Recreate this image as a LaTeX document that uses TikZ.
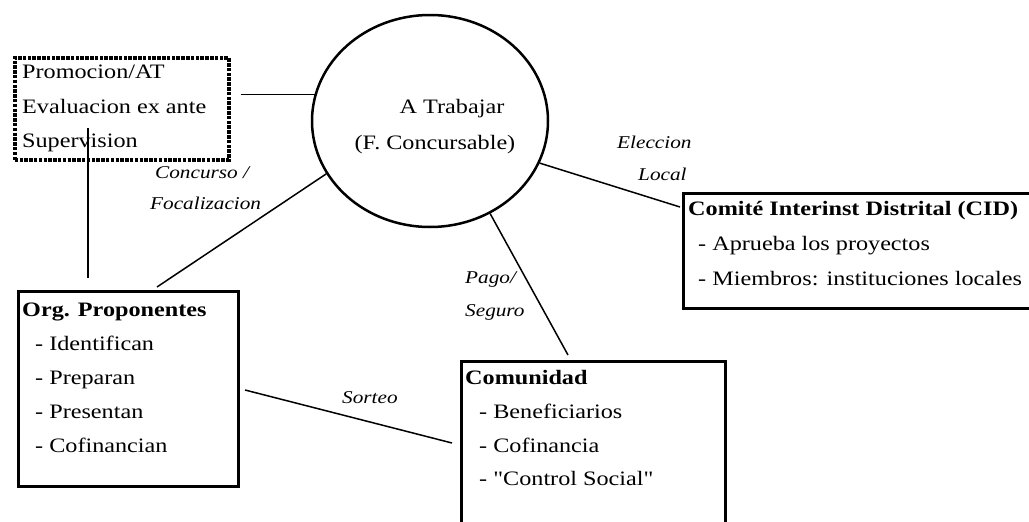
\documentclass[tikz,border=0pt]{standalone}
\usepackage{fontspec}
\setmainfont{Liberation Serif}[FakeStretch=1.18]
\newfontfamily\plainquotes{Liberation Serif}[FakeStretch=1.18]
\usetikzlibrary{shapes.geometric,calc}
\begin{document}
\begin{tikzpicture}[x=1pt,y=-1pt,
  box/.style={draw, line width=3pt, anchor=north west, inner sep=0pt},
  dotbox/.style={draw, line width=3.5pt, dash pattern=on 3.5pt off 1.3pt, anchor=north west, inner sep=0pt},
  txt/.style={anchor=base west, inner sep=0pt, font=\fontsize{20.5}{24}\selectfont},
  hd/.style={anchor=base west, inner sep=0pt, font=\fontsize{20.5}{24}\selectfont\bfseries},
  ctxt/.style={anchor=base, inner sep=0pt, font=\fontsize{20.5}{24}\selectfont},
  lbl/.style={anchor=base west, inner sep=0pt, font=\fontsize{18}{21}\selectfont\itshape},
  conn/.style={line width=1.5pt}]
\clip (0,0) rectangle (1029,522);
% shapes
\node[dotbox, minimum width=214pt, minimum height=102pt] (dot) at (13,56) {};
\node[box, minimum width=220pt, minimum height=195pt] (org) at (17,290) {};
\node[box, minimum width=360pt, minimum height=115pt] (cid) at (682,192) {};
\node[box, minimum width=264pt, minimum height=190pt] (com) at (460,360) {};
\node[ellipse, draw, line width=2.5pt, minimum width=236pt, minimum height=212pt, inner sep=0pt] (circ) at (430,121) {};
% texts
\node[txt] (t1) at (22,78) {Promocion/AT};
\node[txt] (t2) at (22,113) {Evaluacion ex ante};
\node[txt] (t3) at (22,147) {Supervision};
\node[ctxt] (c1) at (452,113) {A Trabajar};
\node[ctxt] (c2) at (435,149) {(F. Concursable)};
\node[hd] (o0) at (22,316) {Org. Proponentes};
\node[txt] (o1) at (35,350) {- Identifican};
\node[txt] (o2) at (35,384) {- Preparan};
\node[txt] (o3) at (35,418) {- Presentan};
\node[txt] (o4) at (35,452) {- Cofinancian};
\node[hd] (d0) at (688,215) {Comité Interinst Distrital (CID)};
\node[txt] (d1) at (698,250) {- Aprueba los proyectos};
\node[txt] (d2) at (698,285) {- Miembros: instituciones locales};
\node[hd] (m0) at (465,384) {Comunidad};
\node[txt] (m1) at (479,418) {- Beneficiarios};
\node[txt] (m2) at (479,452) {- Cofinancia};
\node[txt] (m3) at (479,485) {\plainquotes - "Control Social"};
% labels
\node[lbl] (l1) at (155,178) {Concurso /};
\node[lbl] (l2) at (150,209) {Focalizacion};
\node[lbl] (l3) at (617,148) {Eleccion};
\node[lbl] (l4) at (638,180) {Local};
\node[lbl] (l5) at (465,283) {Pago/};
\node[lbl] (l6) at (465,316) {Seguro};
\node[lbl] (l7) at (342,403) {Sorteo};
% connectors
\coordinate (v1) at (88,128);
\coordinate (v2) at ($(org.north west)+(71,-12)$);
\draw[conn] (v1) -- (v2);
\draw[conn] ([xshift=10pt]dot.east |- circ.167) -- (circ.167);
\draw[conn] (circ.207) -- ($(org.north west)+(140,-3)$);
\draw[conn] (circ.339) -- ($(cid.north west)+(-2,15)$);
\draw[conn] (circ.303) -- ($(com.north west)+(108,-5)$);
\draw[conn] ($(org.north east)+(5,100)$) -- ($(com.north west)+(-8,83)$);
\end{tikzpicture}
\end{document}
